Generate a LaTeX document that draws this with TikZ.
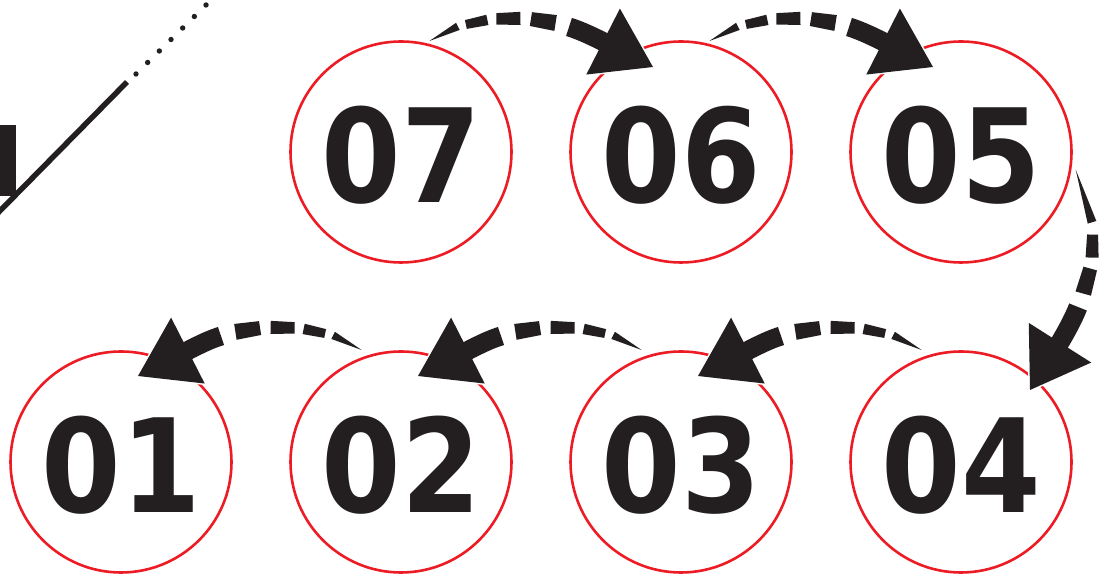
\documentclass[tikz,border=0pt]{standalone}
\usepackage{fontspec}
\usepackage{graphicx}
\usetikzlibrary{decorations.markings}
\newfontfamily\digfont{DejaVu Sans}
\definecolor{ringred}{RGB}{237,28,36}
\definecolor{inkblack}{RGB}{35,31,32}
\newcommand\numfont{\digfont\bfseries\fontsize{130pt}{130pt}\selectfont}
\newcommand\num[1]{\scalebox{0.88}[1]{#1}}
% one tapered dash, drawn in the local frame of a marking
\newcommand\dsh[3]{%
  \filldraw[white,line width=3pt,line join=round] ({-#1/2},{-#2/2}) -- ({#1/2},{-#3/2}) -- ({#1/2},{#3/2}) -- ({-#1/2},{#2/2}) -- cycle;
  \fill[inkblack] ({-#1/2},{-#2/2}) -- ({#1/2},{-#3/2}) -- ({#1/2},{#3/2}) -- ({-#1/2},{#2/2}) -- cycle;}
% solid shaft + arrow head: #1 M, #2 c3, #3 c4, #4 Q, #5 tip, #6 angle
\newcommand\arrowbody[6]{%
  \draw[white,line width=23pt] #1 .. controls #2 and #3 .. #4;
  \filldraw[white,line width=3pt,line join=round,shift={#5},rotate=#6] (0,0) -- (-56,37) -- (-56,-37) -- cycle;
  \draw[inkblack,line width=19pt] #1 .. controls #2 and #3 .. #4;
  \fill[inkblack,shift={#5},rotate=#6] (0,0) -- (-56,37) -- (-56,-37) -- cycle;}
\newcommand\toparrow[1]{%
  \begin{scope}[shift={(#1.center)}]
    \path[decorate,decoration={markings,
      mark=at position 16pt with {\dsh{32}{0}{8}},
      mark=at position 51pt with {\dsh{22}{9}{10.5}},
      mark=at position 83pt with {\dsh{24}{11.5}{13}},
      mark=at position 118pt with {\dsh{25}{14}{16}}}]
      (29,110) .. controls (68,138) and (126,138) .. (168,125);
    \arrowbody{(168,125)}{(182.3,120.6)}{(198.5,112.2)}{(211.9,105.4)}{(252,85)}{-27}
  \end{scope}}
\newcommand\botarrow[1]{%
  \begin{scope}[shift={(#1.center)}]
    \path[decorate,decoration={markings,
      mark=at position 16pt with {\dsh{32}{0}{8}},
      mark=at position 51pt with {\dsh{22}{9}{10.5}},
      mark=at position 83pt with {\dsh{24}{11.5}{13}},
      mark=at position 118pt with {\dsh{25}{14}{16}}}]
      (-40,111) .. controls (-79,139) and (-137,139) .. (-180,126);
    \arrowbody{(-180,126)}{(-194.3,121.6)}{(-209.5,113.2)}{(-222.9,106.4)}{(-263,86)}{207}
  \end{scope}}
\newcommand\vertarrow[1]{%
  \begin{scope}[shift={(#1.center)}]
    \path[decorate,decoration={markings,
      mark=at position 27.5pt with {\dsh{55}{0}{9}},
      mark=at position 78.5pt with {\dsh{23}{11}{13}},
      mark=at position 114pt with {\dsh{26}{14}{16}}}]
      (114,-18) .. controls (134.5,-74.4) and (138.5,-99) .. (117,-155);
    \arrowbody{(117,-155)}{(111.6,-169)}{(101.1,-187.3)}{(93.1,-200)}{(69,-238)}{-122.4}
  \end{scope}}
\tikzset{
  numcirc/.style={circle,draw=ringred,line width=2.6pt,minimum size=221pt,inner sep=0pt,
    text=inkblack,font=\numfont,text height=101pt,text depth=0pt},
}
\begin{document}
\begin{tikzpicture}[x=1pt,y=1pt]
  \useasboundingbox (0,0) rectangle (1103,577);
  \clip (0,0) rectangle (1103,577);
  % top-left ornament
  \fill[inkblack] (0,381) rectangle (16,452);
  \draw[inkblack,line width=5.5pt] (-10,356) -- (127,495);
  \foreach \i in {0,...,6}
    \fill[inkblack] ({136+11.67*\i},{503+11.5*\i}) circle (2.7);
  % circles
  \node[numcirc] (c07) at (401,425) {\num{07}};
  \node[numcirc] (c06) at (681,425) {\num{06}};
  \node[numcirc] (c05) at (961,425) {\num{05}};
  \node[numcirc] (c01) at (121,115) {\num{01}};
  \node[numcirc] (c02) at (401,115) {\num{02}};
  \node[numcirc] (c03) at (681,115) {\num{03}};
  \node[numcirc] (c04) at (961,115) {\num{04}};
  % connectors
  \toparrow{c07}
  \toparrow{c06}
  \vertarrow{c05}
  \botarrow{c04}
  \botarrow{c03}
  \botarrow{c02}
\end{tikzpicture}
\end{document}
